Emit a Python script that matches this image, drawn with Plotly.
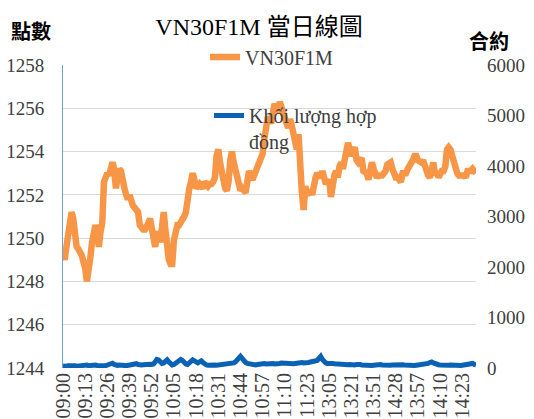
import plotly.graph_objects as go

tick_labels = ["09:00", "09:13", "09:26", "09:39", "09:52", "10:05", "10:18", "10:31",
               "10:44", "10:57", "11:10", "11:23", "13:05", "13:21", "13:51", "14:28",
               "13:57", "14:10", "14:23"]
tick_step = 13

price = [
    1249.3, 1249.0, 1249.6, 1250.2, 1250.9, 1251.2, 1250.9, 1250.0, 1249.6, 1249.5,
    1249.4, 1249.2, 1248.9, 1248.6, 1248.0, 1248.4, 1249.1, 1249.8, 1250.4, 1250.6,
    1250.3, 1249.6, 1250.3, 1250.7, 1252.6, 1252.8, 1253.0, 1252.9, 1253.1, 1253.5,
    1253.2, 1252.3, 1252.8, 1253.2, 1253.1, 1252.5, 1252.3, 1252.0, 1251.8, 1252.0,
    1251.7, 1251.5, 1251.4, 1251.3, 1251.2, 1250.6, 1250.4, 1250.4, 1250.4, 1250.5,
    1250.7, 1250.9, 1250.4, 1249.8, 1249.6, 1250.1, 1250.3, 1249.8, 1251.0, 1251.2,
    1250.4, 1249.6, 1249.0, 1248.8, 1248.8, 1249.9, 1250.4, 1250.6, 1250.6, 1250.7,
    1250.9, 1251.0, 1251.2, 1252.1, 1252.3, 1252.6, 1253.0, 1252.7, 1252.3, 1252.4,
    1252.5, 1252.4, 1252.3, 1252.6, 1252.5, 1252.4, 1252.5, 1252.5, 1252.6, 1252.8,
    1253.8, 1254.1, 1253.5, 1253.0, 1252.4, 1252.3, 1252.2, 1252.6, 1253.6, 1254.0,
    1253.5, 1253.2, 1252.7, 1252.5, 1252.2, 1252.3, 1252.1, 1252.1, 1252.6, 1253.1,
    1252.9, 1252.7, 1252.9, 1253.1, 1253.4, 1253.5, 1253.6, 1253.9, 1254.6, 1255.3,
    1255.6, 1255.5, 1255.3, 1255.8, 1256.2, 1256.0, 1255.8, 1256.3, 1256.0, 1255.7,
    1255.4, 1255.3, 1255.1, 1255.5, 1255.2, 1254.9, 1254.4, 1254.1, 1254.8, 1252.5,
    1252.1, 1251.3, 1252.4, 1252.0, 1252.2, 1252.2, 1252.0, 1252.6, 1252.8, 1253.0,
    1252.9, 1252.8, 1253.1, 1252.8, 1252.5, 1252.6, 1252.7, 1251.9, 1252.6, 1252.9,
    1253.1, 1252.8, 1253.3, 1253.5, 1253.2, 1253.6, 1254.2, 1254.4, 1254.1, 1253.8,
    1254.0, 1254.2, 1253.6, 1253.5, 1253.6, 1253.7, 1253.1, 1253.0, 1253.0, 1252.7,
    1253.1, 1253.5, 1253.2, 1252.9, 1252.8, 1252.9, 1252.9, 1252.9, 1253.0, 1253.1,
    1253.4, 1253.5, 1253.5, 1253.2, 1252.9, 1252.8, 1252.8, 1252.7, 1252.6, 1253.0,
    1253.0, 1253.0, 1253.2, 1253.3, 1253.5, 1253.6, 1253.8, 1253.8, 1253.6, 1253.5,
    1253.5, 1253.6, 1253.3, 1253.2, 1252.9, 1252.8, 1253.1, 1253.5, 1252.9, 1253.1,
    1252.8, 1253.0, 1253.1, 1253.1, 1253.3, 1254.1, 1254.2, 1254.1, 1253.8, 1253.5,
    1253.3, 1253.0, 1252.9, 1252.9, 1252.9, 1252.9, 1252.8, 1253.1, 1253.1, 1253.1,
    1253.2, 1253.1, 1253.0,
]

volume = [
    40, 30, 35, 45, 50, 40, 55, 45, 35, 40,
    50, 45, 40, 55, 60, 45, 50, 70, 80, 60,
    50, 45, 55, 60, 50, 45, 60, 70, 80, 95,
    70, 55, 50, 60, 65, 55, 50, 45, 55, 60,
    50, 60, 70, 85, 70, 55, 60, 65, 70, 80,
    90, 75, 70, 80, 120, 170, 160, 110, 90, 100,
    150, 160, 120, 80, 60, 70, 90, 110, 130, 170,
    150, 110, 80, 70, 90, 130, 160, 140, 110, 100,
    120, 140, 110, 80, 60, 55, 60, 70, 65, 60,
    55, 60, 70, 60, 55, 60, 65, 70, 80, 90,
    100, 120, 150, 200, 230, 190, 140, 110, 90, 80,
    70, 60, 55, 60, 70, 80, 90, 100, 90, 80,
    85, 95, 100, 90, 80, 75, 80, 90, 100, 95,
    85, 80, 90, 95, 90, 85, 90, 100, 110, 120,
    110, 100, 95, 100, 110, 120, 130, 140, 130, 150,
    190, 230, 170, 120, 100, 90, 95, 100, 90, 85,
    80, 75, 80, 85, 80, 70, 60, 65, 70, 60,
    55, 60, 70, 80, 70, 60, 55, 60, 65, 60,
    55, 50, 55, 60, 70, 80, 70, 60, 55, 60,
    55, 50, 55, 60, 65, 60, 55, 60, 70, 65,
    60, 55, 50, 55, 60, 55, 50, 55, 60, 65,
    70, 65, 60, 70, 90, 110, 120, 100, 80, 70,
    65, 60, 55, 60, 65, 60, 55, 60, 55, 50,
    55, 60, 55, 50, 55, 60, 65, 70, 80, 100,
    90, 70, 60,
]

x_idx = list(range(len(price)))
tick_pos = [i * tick_step for i in range(len(tick_labels))]

SERIF = "Liberation Serif"
TITLEF = "Liberation Serif, Noto Sans CJK TC"
CJK = "Noto Sans CJK TC"
TXT = "#404040"
W, H = 534, 419

# plot area in pixels
pl, pr, pt, pb = 63, 476, 65, 368

fig = go.Figure()
fig.add_trace(go.Scatter(
    x=x_idx, y=volume, mode="lines", name="Khối lượng hợp<br>đồng",
    line=dict(color="#0a62b4", width=5), yaxis="y2", legend="legend2",
    showlegend=True,
))
fig.add_trace(go.Scatter(
    x=x_idx, y=price, mode="lines", name="VN30F1M",
    line=dict(color="#f79646", width=6.5), legend="legend",
    showlegend=True,
))

fig.update_layout(
    width=W, height=H,
    margin=dict(l=pl, r=W - pr, t=pt, b=H - pb, autoexpand=False),
    paper_bgcolor="white", plot_bgcolor="white",
    showlegend=True,
    font=dict(family=SERIF, size=19, color=TXT),
    title=dict(text="VN30F1M 當日線圖", x=259 / W, xanchor="center", xref="container",
               y=1 - 27 / H, yanchor="middle", yref="container",
               font=dict(family=TITLEF, size=24, color="black")),
    xaxis=dict(range=[0, len(price) - 1], tickmode="array", tickvals=tick_pos,
               ticktext=tick_labels, tickangle=-90, showgrid=False, zeroline=False,
               showline=False, ticks="", automargin=False,
               tickfont=dict(family=SERIF, size=20, color=TXT)),
    yaxis=dict(range=[1244, 1258], dtick=2, tick0=1244, showgrid=True,
               gridcolor="#d9d9d9", gridwidth=1.3, zeroline=False,
               showline=True, linecolor="#6fa3d8", linewidth=1, ticks="",
               automargin=False, ticklabelstandoff=14,
               tickfont=dict(family=SERIF, size=19, color=TXT)),
    yaxis2=dict(range=[0, 6000], dtick=1000, overlaying="y", side="right",
                showgrid=False, zeroline=False, showline=False, ticks="",
                automargin=False, ticklabelstandoff=10,
                tickfont=dict(family=SERIF, size=19, color=TXT)),
    legend=dict(x=205 / W, y=1 - 57 / H, xref="container", yref="container",
                xanchor="left", yanchor="middle", visible=True,
                bgcolor="rgba(0,0,0,0)", font=dict(family=SERIF, size=20, color=TXT)),
    legend2=dict(x=209 / W, y=1 - 96 / H, xref="container", yref="container",
                 xanchor="left", yanchor="top", valign="top", visible=True,
                 bgcolor="rgba(0,0,0,0)", font=dict(family=SERIF, size=20, color=TXT)),
    annotations=[
        dict(text="<b>點數</b>", x=(31 - pl) / (pr - pl), y=(pb - 31) / (pb - pt),
             xref="paper", yref="paper", showarrow=False,
             font=dict(family=CJK, size=20, color="black"),
             xanchor="center", yanchor="middle"),
        dict(text="<b>合約</b>", x=(489 - pl) / (pr - pl), y=(pb - 41) / (pb - pt),
             xref="paper", yref="paper", showarrow=False,
             font=dict(family=CJK, size=20, color="black"),
             xanchor="center", yanchor="middle"),
    ],
)

fig.write_html("out.html", config={"displayModeBar": False},
               post_script="document.body.style.margin='0';")
